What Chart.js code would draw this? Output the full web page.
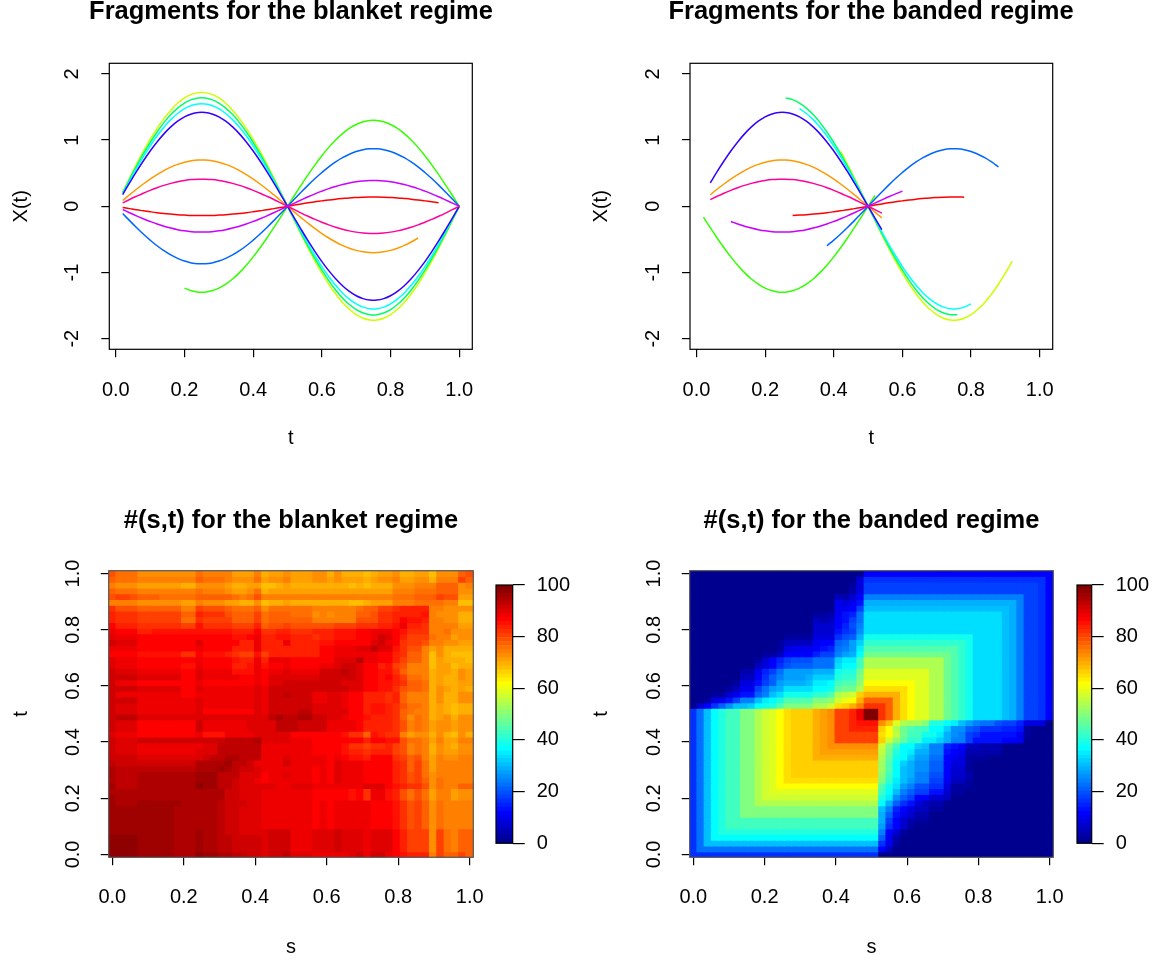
<!DOCTYPE html>
<html>
<head>
<meta charset="utf-8">
<title>Fragments</title>
<script src="https://cdn.jsdelivr.net/npm/chart.js@4/dist/chart.umd.min.js"></script>
<style>
    html, body { margin: 0; padding: 0; background: #fff; }
    #page { position: relative; width: 1159px; height: 964px; overflow: hidden; }
    canvas { position: absolute; }
</style>
</head>
<body>
<div id="page">
    <canvas id="fragBlanket" style="left:0;top:0" width="582" height="482"></canvas>
    <canvas id="fragBanded" style="left:580px;top:0" width="582" height="482"></canvas>
    <canvas id="heatBlanket" style="left:0;top:482px" width="510" height="482"></canvas>
    <canvas id="heatBanded" style="left:580px;top:482px" width="510" height="482"></canvas>
    <canvas id="barBlanket" style="left:490px;top:555px" width="90" height="320"></canvas>
    <canvas id="barBanded" style="left:1071px;top:555px" width="88" height="320"></canvas>
</div>
<script>
const tGrid = [0.02,0.04,0.06,0.08,0.10,0.12,0.14,0.16,0.18,0.20,0.22,0.24,0.26,0.28,0.30,0.32,0.34,0.36,0.38,0.40,0.42,0.44,0.46,0.48,0.50,0.52,0.54,0.56,0.58,0.60,0.62,0.64,0.66,0.68,0.70,0.72,0.74,0.76,0.78,0.80,0.82,0.84,0.86,0.88,0.90,0.92,0.94,0.96,0.98,1.00];

const curveRed = [-.018,-.035,-.052,-.067,-.082,-.096,-.108,-.118,-.127,-.133,-.138,-.140,-.140,-.138,-.133,-.127,-.118,-.108,-.096,-.082,-.067,-.052,-.035,-.018,0,.018,.035,.052,.067,.082,.096,.108,.118,.127,.133,.138,.140,.140,.138,.133,.127,.118,.108,.096,.082,.067,.052,.035,.018,0];
const curveOrange = [.088,.174,.258,.337,.411,.479,.539,.591,.633,.666,.688,.699,.699,.688,.666,.633,.591,.539,.479,.411,.337,.258,.174,.088,0,-.088,-.174,-.258,-.337,-.411,-.479,-.539,-.591,-.633,-.666,-.688,-.699,-.699,-.688,-.666,-.633,-.591,-.539,-.479,-.411,-.337,-.258,-.174,-.088,0];
const curveLime = [.216,.428,.633,.829,1.011,1.177,1.325,1.452,1.556,1.636,1.690,1.717,1.717,1.690,1.636,1.556,1.452,1.325,1.177,1.011,.829,.633,.428,.216,0,-.216,-.428,-.633,-.829,-1.011,-1.177,-1.325,-1.452,-1.556,-1.636,-1.690,-1.717,-1.717,-1.690,-1.636,-1.556,-1.452,-1.325,-1.177,-1.011,-.829,-.633,-.428,-.216,0];
const curveGreen = [-.163,-.323,-.479,-.626,-.764,-.890,-1.002,-1.098,-1.176,-1.236,-1.277,-1.297,-1.297,-1.277,-1.236,-1.176,-1.098,-1.002,-.890,-.764,-.626,-.479,-.323,-.163,0,.163,.323,.479,.626,.764,.890,1.002,1.098,1.176,1.236,1.277,1.297,1.297,1.277,1.236,1.176,1.098,1.002,.890,.764,.626,.479,.323,.163,0];
const curveSpring = [.205,.408,.604,.790,.964,1.123,1.264,1.385,1.484,1.560,1.611,1.637,1.637,1.611,1.560,1.484,1.385,1.264,1.123,.964,.790,.604,.408,.205,0,-.205,-.408,-.604,-.790,-.964,-1.123,-1.264,-1.385,-1.484,-1.560,-1.611,-1.637,-1.637,-1.611,-1.560,-1.484,-1.385,-1.264,-1.123,-.964,-.790,-.604,-.408,-.205,0];
const curveCyan = [.194,.385,.571,.747,.911,1.061,1.194,1.309,1.402,1.474,1.523,1.547,1.547,1.523,1.474,1.402,1.309,1.194,1.061,.911,.747,.571,.385,.194,0,-.194,-.385,-.571,-.747,-.911,-1.061,-1.194,-1.309,-1.402,-1.474,-1.523,-1.547,-1.547,-1.523,-1.474,-1.402,-1.309,-1.194,-1.061,-.911,-.747,-.571,-.385,-.194,0];
const curveAzure = [-.109,-.216,-.320,-.419,-.511,-.596,-.670,-.735,-.787,-.827,-.855,-.868,-.868,-.855,-.827,-.787,-.735,-.670,-.596,-.511,-.419,-.320,-.216,-.109,0,.109,.216,.320,.419,.511,.596,.670,.735,.787,.827,.855,.868,.868,.855,.827,.787,.735,.670,.596,.511,.419,.320,.216,.109,0];
const curveIndigo = [.178,.353,.523,.684,.835,.972,1.094,1.199,1.285,1.351,1.395,1.417,1.417,1.395,1.351,1.285,1.199,1.094,.972,.835,.684,.523,.353,.178,0,-.178,-.353,-.523,-.684,-.835,-.972,-1.094,-1.199,-1.285,-1.351,-1.395,-1.417,-1.417,-1.395,-1.351,-1.285,-1.199,-1.094,-.972,-.835,-.684,-.523,-.353,-.178,0];
const curveViolet = [-.049,-.097,-.144,-.188,-.229,-.267,-.300,-.329,-.353,-.371,-.383,-.389,-.389,-.383,-.371,-.353,-.329,-.300,-.267,-.229,-.188,-.144,-.097,-.049,0,.049,.097,.144,.188,.229,.267,.300,.329,.353,.371,.383,.389,.389,.383,.371,.353,.329,.300,.267,.229,.188,.144,.097,.049,0];
const curvePink = [.051,.102,.151,.198,.241,.281,.316,.346,.371,.390,.403,.409,.409,.403,.390,.371,.346,.316,.281,.241,.198,.151,.102,.051,0,-.051,-.102,-.151,-.198,-.241,-.281,-.316,-.346,-.371,-.390,-.403,-.409,-.409,-.403,-.390,-.371,-.346,-.316,-.281,-.241,-.198,-.151,-.102,-.051,0];

const curves = [curveRed, curveOrange, curveLime, curveGreen, curveSpring, curveCyan, curveAzure, curveIndigo, curveViolet, curvePink];
const curveColors = ['#FF0000','#FF9900','#CCFF00','#33FF00','#00FF66','#00FFFF','#0066FF','#3300FF','#CC00FF','#FF0099'];

// observed stretch of each curve, same order as curves
const blanketFrom = [0.02,0.02,0.02,0.20,0.02,0.02,0.02,0.02,0.02,0.02];
const blanketTo   = [0.94,0.88,1.00,1.00,1.00,1.00,1.00,1.00,1.00,1.00];
const bandedFrom  = [0.28,0.04,0.42,0.02,0.26,0.30,0.38,0.04,0.10,0.04];
const bandedTo    = [0.78,0.54,0.92,0.52,0.76,0.80,0.88,0.54,0.60,0.54];

const xTicks = [0,0.2,0.4,0.6,0.8,1];
const yTicks = [-2,-1,0,1,2];
const barTicks = [0,20,40,60,80,100];

const grid = [0.0000,0.0204,0.0408,0.0612,0.0816,0.1020,0.1224,0.1429,0.1633,0.1837,0.2041,0.2245,0.2449,0.2653,0.2857,0.3061,0.3265,0.3469,0.3673,0.3878,0.4082,0.4286,0.4490,0.4694,0.4898,0.5102,0.5306,0.5510,0.5714,0.5918,0.6122,0.6327,0.6531,0.6735,0.6939,0.7143,0.7347,0.7551,0.7755,0.7959,0.8163,0.8367,0.8571,0.8776,0.8980,0.9184,0.9388,0.9592,0.9796,1.0000];

const palette = ['#00008F','#00009F','#0000AF','#0000BF','#0000CF','#0000DF','#0000EF','#0000FF','#0010FF','#0020FF','#0030FF','#0040FF','#0050FF','#0060FF','#0070FF','#0080FF','#008FFF','#009FFF','#00AFFF','#00BFFF','#00CFFF','#00DFFF','#00EFFF','#00FFFF','#10FFEF','#20FFDF','#30FFCF','#40FFBF','#50FFAF','#60FF9F','#70FF8F','#80FF80','#8FFF70','#9FFF60','#AFFF50','#BFFF40','#CFFF30','#DFFF20','#EFFF10','#FFFF00','#FFEF00','#FFDF00','#FFCF00','#FFBF00','#FFAF00','#FF9F00','#FF8F00','#FF8000','#FF7000','#FF6000','#FF5000','#FF4000','#FF3000','#FF2000','#FF1000','#FF0000','#EF0000','#DF0000','#CF0000','#BF0000','#AF0000','#9F0000','#8F0000','#800000'];

// rows run from t = 1 at the top down to t = 0, columns from s = 0 to s = 1
const blanketCounts = [
[79,76,76,76,73,73,73,73,73,73,73,73,76,74,74,74,74,71,71,71,74,70,71,71,73,71,71,71,73,73,70,73,70,70,70,68,70,71,71,73,70,70,71,71,68,73,73,73,77,79],
[77,76,76,76,74,74,74,74,74,74,74,74,77,76,76,76,74,73,73,73,76,71,73,73,74,71,71,71,73,73,71,73,71,71,71,70,71,73,73,74,71,71,73,73,70,74,74,74,81,77],
[74,73,73,73,71,71,71,71,71,71,70,70,73,73,73,73,71,70,70,71,71,68,68,70,71,70,70,70,70,70,70,70,70,68,70,68,70,70,70,73,73,73,74,74,74,77,77,77,73,74],
[77,76,76,76,74,74,74,74,74,74,74,74,76,74,74,74,73,71,71,73,76,70,71,71,71,71,71,71,71,71,71,71,71,71,71,71,71,71,71,74,74,74,76,76,76,77,77,77,73,73],
[79,81,81,79,77,77,77,76,76,76,76,76,77,77,77,77,77,76,74,76,79,74,74,74,74,74,74,74,74,74,74,74,74,74,74,74,74,74,74,76,76,76,77,77,77,81,79,79,71,71],
[74,74,74,74,73,73,73,73,73,73,71,71,74,73,73,73,71,71,70,70,73,68,70,70,71,70,70,70,70,70,70,70,70,68,68,70,71,71,71,74,74,74,76,76,76,76,74,74,68,68],
[82,79,79,79,77,77,77,77,77,77,74,74,81,79,79,79,77,76,76,76,77,73,76,76,76,76,76,76,74,74,74,74,74,74,76,77,77,81,81,82,84,84,84,84,74,74,73,73,73,73],
[84,82,82,82,81,81,81,81,81,81,77,77,84,82,82,82,79,77,77,77,81,76,77,77,77,76,76,76,73,74,73,74,74,74,77,77,79,82,82,84,84,84,84,85,74,73,73,73,70,70],
[84,82,82,82,81,81,81,81,81,81,76,76,82,81,81,81,81,77,77,77,81,76,77,77,77,77,77,77,74,74,74,74,74,74,79,79,79,82,82,84,87,85,85,84,74,74,73,73,70,70],
[87,84,84,84,82,82,82,82,82,82,81,81,85,82,82,82,82,81,81,81,84,77,79,79,81,79,79,79,79,79,79,81,81,81,82,82,82,84,84,85,88,84,84,82,74,74,74,74,71,71],
[88,87,87,87,84,84,85,85,85,85,85,85,85,85,85,85,85,84,84,84,87,82,82,84,84,82,82,82,84,84,84,85,85,85,87,87,88,88,88,87,85,82,82,82,74,74,76,73,73,73],
[90,88,88,88,87,87,87,87,87,87,87,87,87,87,87,87,87,85,85,87,88,84,84,85,85,84,84,84,82,84,84,85,85,85,87,87,88,92,90,87,84,81,81,81,76,74,74,71,73,73],
[92,90,90,90,87,87,87,87,87,87,87,87,90,87,87,87,87,87,84,84,88,84,84,84,88,84,84,84,84,85,85,87,87,87,87,87,90,92,88,87,82,81,81,79,74,74,73,73,71,71],
[88,88,88,88,87,87,87,87,87,87,87,87,88,87,87,87,87,84,84,84,88,84,84,84,84,84,84,84,84,87,87,88,88,88,90,90,93,90,90,85,82,79,79,74,71,73,70,70,70,70],
[87,87,87,87,85,85,85,85,85,85,82,82,87,85,85,85,84,82,81,81,85,81,84,84,84,84,84,84,84,87,87,88,88,88,88,88,88,87,87,84,82,77,77,74,68,73,70,68,68,68],
[90,88,88,88,87,87,87,87,87,87,87,87,88,87,87,87,87,85,84,84,88,84,88,88,88,87,87,87,87,87,87,90,90,90,93,88,88,87,87,84,81,77,77,74,68,71,70,70,70,68],
[90,88,88,88,87,87,87,87,87,87,85,85,88,87,87,87,87,84,84,85,88,85,87,87,88,87,87,87,87,88,88,90,92,92,90,87,87,84,85,81,79,74,74,74,68,71,71,68,70,70],
[92,90,90,90,88,88,88,88,88,88,87,87,90,88,88,88,88,85,85,85,88,87,88,88,90,88,88,88,88,92,92,92,93,92,90,87,87,85,85,82,77,74,74,74,70,71,71,70,73,71],
[92,91,91,91,90,90,90,90,90,90,87,87,90,88,88,88,88,88,87,87,88,87,90,90,90,90,90,90,90,92,92,92,92,91,90,87,87,85,87,84,81,76,76,74,70,71,70,70,73,71],
[92,88,88,88,87,87,87,87,87,87,87,87,88,87,87,87,87,87,87,87,88,87,90,90,92,92,92,92,92,92,92,92,90,90,90,87,87,85,85,84,82,77,77,76,70,71,70,70,71,71],
[92,92,92,92,90,90,90,90,90,90,87,87,90,89,89,89,89,89,88,88,90,89,92,92,92,92,92,92,92,92,92,92,91,90,90,87,87,85,85,82,79,77,77,76,70,73,71,70,71,70],
[92,89,89,89,88,88,88,88,88,88,87,87,89,89,89,89,89,89,88,88,90,88,92,92,93,92,92,92,89,89,90,90,88,87,87,84,84,84,82,84,77,74,74,74,70,73,70,70,73,73],
[92,92,92,92,88,88,88,88,88,88,88,88,90,88,88,88,88,88,88,88,90,88,92,92,92,92,92,92,89,89,90,90,88,87,87,84,84,84,82,84,77,74,74,74,70,73,70,70,73,73],
[92,90,90,90,88,88,88,88,88,88,88,88,90,88,88,88,88,88,88,88,90,88,92,92,92,92,92,92,90,90,90,90,88,87,87,84,85,85,84,82,79,76,76,74,70,71,70,68,70,70],
[92,90,90,90,88,88,88,88,88,88,88,88,90,87,87,87,87,87,87,87,90,88,92,92,92,92,93,93,90,90,90,90,90,87,87,84,85,85,84,82,77,76,74,74,70,71,70,68,70,70],
[92,93,93,93,90,90,90,90,90,90,90,90,90,90,90,90,90,90,90,90,90,90,93,95,93,93,95,95,92,92,90,90,89,87,87,85,84,84,84,82,77,73,76,74,70,71,73,70,73,73],
[92,90,90,90,87,87,87,87,87,87,87,87,92,88,88,88,88,88,88,90,90,90,90,93,93,93,92,92,91,91,89,89,89,88,87,84,84,84,84,82,79,74,76,74,71,73,73,71,73,73],
[92,90,90,90,87,87,87,87,87,87,87,87,92,88,88,88,88,88,88,90,90,90,90,93,93,93,92,92,91,91,89,89,89,88,87,84,84,84,84,82,79,74,76,74,71,73,73,71,73,73],
[90,88,88,88,87,87,87,87,87,87,87,87,88,85,85,85,88,88,88,88,90,90,90,90,90,87,87,87,87,87,87,87,85,82,82,77,85,84,82,82,74,71,73,73,70,73,70,68,73,70],
[92,90,90,90,92,92,92,92,92,92,92,92,92,92,92,92,93,93,93,93,95,90,90,90,90,88,88,88,87,87,87,87,87,87,87,84,87,87,85,85,79,76,76,74,71,74,71,71,74,74],
[92,90,90,90,89,89,89,89,89,89,89,89,89,90,90,93,93,93,93,93,93,88,88,88,88,88,88,88,87,87,87,87,85,82,82,81,82,82,84,81,79,74,76,74,70,73,71,70,73,73],
[92,90,90,90,88,88,88,88,88,88,88,88,90,90,90,93,93,93,93,93,93,88,88,88,88,88,88,88,87,87,87,87,85,84,84,82,84,84,84,81,79,74,76,74,70,73,71,71,73,73],
[92,92,92,92,90,90,90,90,90,90,90,90,90,92,93,93,95,95,93,93,93,89,89,89,90,88,88,88,88,88,87,88,87,85,85,84,87,87,87,82,81,77,79,74,71,74,73,73,74,74],
[93,92,92,92,92,92,92,92,92,92,92,92,95,95,95,95,96,93,93,92,89,89,89,89,92,88,88,88,88,88,87,90,88,88,88,87,87,87,87,84,82,77,81,76,71,74,74,74,74,74],
[95,93,93,93,93,93,93,93,93,93,93,93,95,95,95,96,95,93,92,92,90,88,88,88,88,88,88,88,87,88,87,90,88,88,88,87,87,87,87,84,82,77,81,76,71,74,74,74,74,74],
[95,93,93,93,95,95,95,95,95,95,95,95,96,96,96,93,93,93,90,90,90,87,88,88,90,88,88,88,87,88,87,90,88,88,88,87,87,87,87,84,82,79,81,76,73,74,74,74,74,74],
[95,93,93,93,95,95,95,95,95,95,95,95,96,96,96,93,93,92,90,90,89,87,88,88,89,88,88,88,87,88,87,90,88,88,88,87,87,87,87,84,82,79,81,77,73,76,74,74,74,74],
[96,93,93,93,95,95,95,95,95,95,95,95,98,96,96,93,93,92,90,90,90,90,90,88,88,90,90,90,88,88,88,88,88,88,88,90,90,90,87,85,84,82,82,79,73,76,74,74,77,77],
[95,95,95,95,95,95,95,95,95,95,95,95,95,95,95,95,92,92,90,90,90,88,88,88,88,88,88,88,87,87,87,87,87,85,87,82,88,88,85,84,79,76,79,76,71,74,74,71,73,73],
[96,95,95,95,95,95,95,95,95,95,95,95,95,95,95,95,92,92,90,90,90,88,88,88,88,88,88,88,87,87,87,87,87,85,87,82,88,88,85,84,79,76,79,76,71,74,74,71,73,73],
[96,95,95,95,96,96,96,96,96,96,95,95,95,95,95,93,92,92,91,90,90,88,88,88,88,88,88,88,87,88,87,88,88,88,88,88,87,87,87,85,82,79,81,77,73,76,74,74,74,74],
[96,96,96,96,96,96,96,96,96,95,95,95,95,95,95,93,92,92,90,90,90,88,88,88,88,88,88,88,87,88,87,88,88,88,88,88,87,87,87,85,82,79,81,77,73,76,74,74,74,74],
[96,96,96,96,96,96,96,96,96,95,95,95,95,95,95,93,92,92,90,90,90,88,88,88,88,88,88,88,87,88,87,88,88,88,88,88,87,87,87,85,82,79,81,77,73,76,74,74,74,74],
[96,96,96,96,96,96,96,96,96,95,95,95,95,95,95,93,92,92,90,90,90,88,88,88,88,88,88,88,87,88,87,88,88,88,88,88,87,87,87,85,82,79,81,77,73,76,74,74,74,74],
[96,96,96,96,96,96,96,96,96,95,95,95,95,95,95,93,92,92,90,90,90,88,88,88,88,88,88,88,87,88,87,88,88,88,88,88,87,87,87,85,82,79,81,77,73,76,74,74,74,74],
[96,96,96,96,96,96,96,96,96,95,95,95,96,95,95,93,92,92,90,90,90,90,92,92,92,89,89,89,90,90,90,92,90,90,90,88,90,90,90,87,84,81,81,81,73,81,76,74,77,77],
[98,98,98,98,96,96,96,96,96,95,95,95,96,95,95,93,93,92,92,92,92,90,92,92,92,89,89,89,90,90,90,92,90,90,90,88,90,90,90,87,84,81,81,81,73,81,76,74,77,77],
[98,98,98,98,96,96,96,96,96,95,95,95,96,95,95,93,93,92,92,92,92,90,92,92,92,89,89,89,90,90,90,92,90,90,90,88,90,90,90,87,84,81,81,81,73,81,76,74,77,77],
[98,98,98,98,96,96,96,96,96,95,95,95,96,95,95,93,93,92,92,92,92,90,92,92,92,89,89,89,90,90,90,92,90,90,90,88,90,90,90,87,84,81,81,81,73,81,76,74,77,77],
[98,98,98,98,96,96,96,96,96,95,95,95,98,96,96,95,95,93,93,92,92,90,92,92,93,90,90,90,88,88,88,88,88,90,92,88,92,92,88,87,85,84,84,84,74,81,77,77,81,77],
];

const bandedCounts = [
[1,1,1,1,1,1,1,1,1,1,1,1,1,1,1,1,1,1,1,1,1,1,1,1,12,12,12,12,12,12,12,12,12,12,12,12,12,12,12,12,12,12,12,12,12,12,12,12,12,12],
[1,1,1,1,1,1,1,1,1,1,1,1,1,1,1,1,1,1,1,1,1,1,1,9,16,16,16,16,16,16,16,16,16,16,16,16,16,16,16,16,16,16,16,16,16,16,16,16,16,12],
[1,1,1,1,1,1,1,1,1,1,1,1,1,1,1,1,1,1,1,1,1,1,2,9,18,18,18,18,18,18,18,18,18,18,18,18,18,18,18,18,18,18,18,18,18,18,18,18,16,12],
[1,1,1,1,1,1,1,1,1,1,1,1,1,1,1,1,1,1,1,1,1,1,4,9,18,18,18,18,18,18,18,18,18,18,18,18,18,18,18,18,18,18,18,18,18,18,18,18,16,12],
[1,1,1,1,1,1,1,1,1,1,1,1,1,1,1,1,1,1,1,1,5,4,7,12,24,24,24,24,24,24,24,24,24,24,24,24,24,24,24,24,24,24,24,24,24,24,18,18,16,12],
[1,1,1,1,1,1,1,1,1,1,1,1,1,1,1,1,1,1,1,1,10,9,10,13,29,29,29,29,29,29,29,29,29,29,29,29,29,29,29,29,29,29,29,29,29,24,18,18,16,12],
[1,1,1,1,1,1,1,1,1,1,1,1,1,1,1,1,1,1,1,1,10,10,12,18,30,30,30,30,30,30,30,30,30,30,30,30,30,30,30,30,30,30,30,30,29,24,18,18,16,12],
[1,1,1,1,1,1,1,1,1,1,1,1,1,1,1,1,1,2,2,4,10,13,15,23,34,34,34,34,34,34,34,34,34,34,34,34,34,34,34,34,34,34,34,30,29,24,18,18,16,12],
[1,1,1,1,1,1,1,1,1,1,1,1,1,1,1,1,1,5,4,5,12,13,18,23,34,34,34,34,34,34,34,34,34,34,34,34,34,34,34,34,34,34,34,30,29,24,18,18,16,12],
[1,1,1,1,1,1,1,1,1,1,1,1,1,1,1,1,1,7,7,7,12,15,20,24,34,34,34,34,34,34,34,34,34,34,34,34,34,34,34,34,34,34,34,30,29,24,18,18,16,12],
[1,1,1,1,1,1,1,1,1,1,1,1,1,1,1,1,1,7,7,7,13,16,18,26,34,34,34,34,34,34,34,34,34,34,34,34,34,34,34,34,34,34,34,30,29,24,18,18,16,12],
[1,1,1,1,1,1,1,1,1,1,1,1,1,2,2,2,2,9,9,9,16,20,21,29,38,38,38,38,38,38,38,38,38,38,38,38,38,38,38,34,34,34,34,30,29,24,18,18,16,12],
[1,1,1,1,1,1,1,1,1,1,1,1,2,5,5,5,5,10,12,12,21,23,27,32,41,41,41,41,41,41,41,41,41,41,41,41,41,41,38,34,34,34,34,30,29,24,18,18,16,12],
[1,1,1,1,1,1,1,1,1,1,1,1,2,9,10,10,10,12,13,15,23,24,27,35,45,45,45,45,45,45,45,45,45,45,45,45,45,41,38,34,34,34,34,30,29,24,18,18,16,12],
[1,1,1,1,1,1,1,1,1,1,2,2,5,12,12,12,12,15,18,18,24,27,29,37,48,48,48,48,48,48,48,48,48,48,48,48,45,41,38,34,34,34,34,30,29,24,18,18,16,12],
[1,1,1,1,1,1,1,1,1,2,7,12,15,18,20,20,20,23,23,23,32,35,35,43,54,54,54,54,54,54,54,54,54,54,54,48,45,41,38,34,34,34,34,30,29,24,18,18,16,12],
[1,1,1,1,1,1,1,1,1,5,9,12,16,20,21,21,21,23,23,23,34,37,37,43,54,54,54,54,54,54,54,54,54,54,54,48,45,41,38,34,34,34,34,30,29,24,18,18,16,12],
[1,1,1,1,1,1,1,4,4,10,15,18,23,27,27,27,27,29,29,29,38,40,40,48,59,59,59,59,59,59,59,59,59,54,54,48,45,41,38,34,34,34,34,30,29,24,18,18,16,12],
[1,1,1,1,1,1,1,5,5,12,16,21,24,27,27,27,29,32,32,32,40,41,41,49,59,59,59,59,59,59,59,59,59,54,54,48,45,41,38,34,34,34,34,30,29,24,18,18,16,12],
[1,1,1,1,1,1,2,9,9,13,18,21,27,29,29,29,30,35,35,37,43,45,45,51,62,62,62,62,62,62,62,59,59,54,54,48,45,41,38,34,34,34,34,30,29,24,18,18,16,12],
[1,1,1,1,1,2,5,10,10,18,23,27,29,34,34,34,34,37,37,38,46,48,48,54,65,65,65,65,65,65,62,59,59,54,54,48,45,41,38,34,34,34,34,30,29,24,18,18,16,12],
[1,1,1,2,2,7,10,13,13,21,24,30,34,38,38,38,38,41,41,45,54,55,57,66,70,70,70,70,70,65,62,59,59,54,54,48,45,41,38,34,34,34,34,30,29,24,18,18,16,12],
[1,1,2,9,10,13,18,24,24,30,35,37,40,45,45,45,45,49,49,51,57,60,62,70,77,77,77,77,70,65,62,59,59,54,54,48,45,41,38,34,34,34,34,30,29,24,18,18,16,12],
[1,7,12,16,21,26,30,30,32,37,38,40,45,49,49,49,49,54,54,57,65,66,70,74,82,82,82,77,70,65,62,59,59,54,54,48,45,41,38,34,34,34,34,30,29,24,18,18,16,12],
[16,23,30,37,40,43,43,49,49,54,57,59,62,65,66,66,66,70,71,73,81,81,84,88,99,99,82,77,70,65,62,59,59,54,54,48,45,41,38,34,34,34,34,30,29,24,18,18,16,12],
[16,23,30,37,40,43,43,49,49,54,57,59,62,65,66,66,66,70,71,73,81,81,84,88,99,99,82,77,70,65,62,59,59,54,54,48,45,41,38,34,34,34,34,30,29,24,18,18,16,12],
[16,23,30,37,40,43,43,49,49,54,57,59,62,65,66,66,66,70,71,73,81,81,84,85,85,85,73,68,59,54,52,52,49,40,40,37,35,30,27,24,23,23,20,18,18,15,9,9,9,1],
[16,23,30,37,40,43,43,49,49,54,57,59,62,65,66,66,66,70,71,73,81,81,84,84,84,84,66,62,54,48,45,43,43,37,37,32,26,26,21,20,16,16,16,15,15,13,2,1,1,1],
[16,23,30,37,40,43,43,49,49,54,57,59,62,65,66,66,66,70,71,73,81,81,81,81,81,81,65,62,55,48,43,43,38,38,35,29,26,24,18,16,13,13,13,13,13,10,2,1,1,1],
[16,23,30,37,40,43,43,49,49,54,57,59,62,65,66,66,66,70,71,73,81,81,81,81,81,81,66,57,51,46,41,41,35,35,32,29,24,24,18,13,13,13,13,12,12,10,1,1,1,1],
[16,23,30,37,40,43,43,49,49,54,57,59,62,65,66,66,66,70,71,73,73,73,73,73,73,73,57,49,43,37,37,32,30,24,24,15,13,12,5,5,4,4,4,1,1,1,1,1,1,1],
[16,23,30,37,40,43,43,49,49,54,57,59,62,65,66,66,66,70,71,71,71,71,71,71,71,71,55,48,40,37,35,29,29,24,24,13,12,10,4,4,4,4,4,1,1,1,1,1,1,1],
[16,23,30,37,40,43,43,49,49,54,57,59,62,65,66,66,66,70,70,70,70,70,70,70,70,70,54,46,38,37,32,27,27,23,23,12,10,9,2,2,2,1,1,1,1,1,1,1,1,1],
[16,23,30,37,40,43,43,49,49,54,57,59,62,65,66,66,66,66,66,66,66,66,66,66,66,66,52,45,37,32,29,26,26,21,21,12,9,9,2,1,1,1,1,1,1,1,1,1,1,1],
[16,23,30,37,40,43,43,49,49,54,57,59,62,65,66,66,66,66,66,66,66,66,66,66,66,66,52,45,37,30,29,26,26,21,21,12,7,7,2,1,1,1,1,1,1,1,1,1,1,1],
[16,23,30,37,40,43,43,49,49,54,57,59,62,65,66,66,66,66,66,66,66,66,66,66,66,66,51,43,37,30,29,24,24,20,20,12,7,7,4,1,1,1,1,1,1,1,1,1,1,1],
[16,23,30,37,40,43,43,49,49,54,57,59,62,65,65,65,65,65,65,65,65,65,65,65,65,65,49,41,35,30,27,24,24,18,18,10,5,5,2,1,1,1,1,1,1,1,1,1,1,1],
[16,23,30,37,40,43,43,49,49,54,57,59,62,62,62,62,62,62,62,62,62,62,62,62,62,62,45,38,34,27,24,20,20,16,16,9,2,2,2,1,1,1,1,1,1,1,1,1,1,1],
[16,23,30,37,40,43,43,49,49,54,57,59,59,59,59,59,59,59,59,59,59,59,59,59,59,59,43,37,30,24,21,18,18,13,13,7,2,2,1,1,1,1,1,1,1,1,1,1,1,1],
[16,23,30,37,40,43,43,49,49,54,57,57,57,57,57,57,57,57,57,57,57,57,57,57,57,57,40,35,26,21,18,12,12,7,7,5,1,1,1,1,1,1,1,1,1,1,1,1,1,1],
[16,23,30,37,40,43,43,49,49,54,54,54,54,54,54,54,54,54,54,54,54,54,54,54,54,54,37,29,21,16,13,9,5,4,4,1,1,1,1,1,1,1,1,1,1,1,1,1,1,1],
[16,23,30,37,40,43,43,49,49,49,49,49,49,49,49,49,49,49,49,49,49,49,49,49,49,49,30,24,15,12,9,5,5,2,2,1,1,1,1,1,1,1,1,1,1,1,1,1,1,1],
[16,23,30,37,40,43,43,49,49,49,49,49,49,49,49,49,49,49,49,49,49,49,49,49,49,49,29,21,13,10,7,4,4,1,1,1,1,1,1,1,1,1,1,1,1,1,1,1,1,1],
[16,23,30,37,40,43,43,43,43,43,43,43,43,43,43,43,43,43,43,43,43,43,43,43,43,43,29,18,12,7,4,2,2,1,1,1,1,1,1,1,1,1,1,1,1,1,1,1,1,1],
[16,23,30,37,40,43,43,43,43,43,43,43,43,43,43,43,43,43,43,43,43,43,43,43,43,43,27,16,12,7,2,1,1,1,1,1,1,1,1,1,1,1,1,1,1,1,1,1,1,1],
[16,23,30,37,40,40,40,40,40,40,40,40,40,40,40,40,40,40,40,40,40,40,40,40,40,40,24,12,7,2,1,1,1,1,1,1,1,1,1,1,1,1,1,1,1,1,1,1,1,1],
[16,23,30,37,37,37,37,37,37,37,37,37,37,37,37,37,37,37,37,37,37,37,37,37,37,37,21,10,4,1,1,1,1,1,1,1,1,1,1,1,1,1,1,1,1,1,1,1,1,1],
[16,23,30,30,30,30,30,30,30,30,30,30,30,30,30,30,30,30,30,30,30,30,30,30,30,30,16,10,2,1,1,1,1,1,1,1,1,1,1,1,1,1,1,1,1,1,1,1,1,1],
[16,23,23,23,23,23,23,23,23,23,23,23,23,23,23,23,23,23,23,23,23,23,23,23,23,23,12,5,1,1,1,1,1,1,1,1,1,1,1,1,1,1,1,1,1,1,1,1,1,1],
[16,16,16,16,16,16,16,16,16,16,16,16,16,16,16,16,16,16,16,16,16,16,16,16,16,16,1,1,1,1,1,1,1,1,1,1,1,1,1,1,1,1,1,1,1,1,1,1,1,1],
];

Chart.defaults.font.family = '"Liberation Sans", Arial, sans-serif';
Chart.defaults.color = '#000';
Chart.defaults.devicePixelRatio = 1;

const tickFont = { size: 20 };
const titleFont = { size: 25.5, weight: 'bold', lineHeight: 1 };
const axisFont = { size: 20, lineHeight: 1 };

const boxPlugin = {
    id: 'box',
    afterDraw(chart) {
        const a = chart.chartArea, ctx = chart.ctx;
        ctx.save();
        ctx.strokeStyle = chart.options.plugins.box.color;
        ctx.lineWidth = 1.2;
        ctx.strokeRect(a.left, a.top, a.right - a.left, a.bottom - a.top);
        ctx.restore();
    },
};

const pickColor = v => palette[Math.min(63, Math.floor(v * 64 / 100))];

function axis(opts) {
    return {
        type: 'linear',
        offset: false,
        min: opts.min,
        max: opts.max,
        position: opts.position,
        border: { display: false },
        grid: { drawOnChartArea: false, offset: false, color: '#000', tickLength: opts.tick, lineWidth: 1.2 },
        afterBuildTicks: s => { s.ticks = opts.ticks.map(v => ({ value: v })); },
        afterFit: s => { if (opts.size) s[opts.position === 'bottom' ? 'height' : 'width'] = opts.size; },
        title: opts.title ? { display: true, text: opts.title, font: axisFont, padding: opts.titlePad } : { display: false },
        ticks: Object.assign({ font: tickFont, autoSkip: false, padding: opts.pad, callback: opts.label }, opts.rotate ? { minRotation: 90, maxRotation: 90, crossAlign: 'center' } : {}),
    };
}

function panel(id, type, datasets, cfg) {
    const scales = {
        x: axis({ min: cfg.xMin, max: cfg.xMax, position: 'bottom', ticks: xTicks, tick: 8, pad: cfg.xPad, size: cfg.xSize, title: cfg.xTitle, titlePad: { bottom: cfg.xTitleBottom, top: 0 }, label: v => v.toFixed(1) }),
        y: axis({ min: cfg.yMin, max: cfg.yMax, position: 'left', ticks: cfg.yTicks, tick: 8, pad: cfg.yPad, size: cfg.ySize, title: cfg.yTitle, titlePad: { top: cfg.yTitleTop, bottom: 0 }, rotate: true, label: cfg.yLabel }),
    };
    // empty right axis keeps the wide title centred over the plot box
    if (cfg.spacer) {
        scales.spacer = {
            axis: 'y',
            position: 'right',
            border: { display: false },
            grid: { display: false },
            ticks: { display: false },
            afterFit: s => { s.width = cfg.spacer; },
        };
    }
    return new Chart(document.getElementById(id), {
        type,
        data: { datasets },
        plugins: [boxPlugin],
        options: {
            responsive: false,
            animation: false,
            events: [],
            layout: { padding: { right: cfg.right || 0 } },
            plugins: {
                legend: { display: false },
                tooltip: { enabled: false },
                box: { color: cfg.box },
                title: { display: true, fullSize: cfg.titleFull, text: cfg.title, font: titleFont, color: '#000', padding: { top: cfg.titleTop, bottom: cfg.titleBottom } },
            },
            scales,
        },
    });
}

function fragmentSets(from, to) {
    return curves.map((c, i) => ({
        data: tGrid.map((t, k) => ({ x: t, y: c[k] })).filter(p => p.x >= from[i] - 1e-6 && p.x <= to[i] + 1e-6),
        borderColor: curveColors[i],
        borderWidth: 1.5,
        pointRadius: 0,
        tension: 0.4,
        fill: false,
        order: curves.length - i,
    }));
}

function cellSets(rows) {
    const half = (grid[1] - grid[0]) / 2;
    return rows.map((row, j) => {
        const t = grid[grid.length - 1 - j];
        return {
            data: row.map((v, i) => ({ x: grid[i], y: [t - half, t + half] })),
            backgroundColor: row.map(pickColor),
            borderWidth: 0,
            inflateAmount: 0.6,
            grouped: false,
            barPercentage: 1,
            categoryPercentage: 1,
        };
    });
}

function colorBar(id, padLeft) {
    new Chart(document.getElementById(id), {
        type: 'bar',
        data: {
            labels: [''],
            datasets: palette.map((c, i) => ({
                data: [[i * 100 / palette.length, (i + 1) * 100 / palette.length]],
                backgroundColor: c,
                borderWidth: 0,
                grouped: false,
                barPercentage: 1,
                categoryPercentage: 1,
            })),
        },
        plugins: [boxPlugin],
        options: {
            responsive: false,
            animation: false,
            events: [],
            layout: { padding: { left: padLeft, top: 30, bottom: 31.7 } },
            plugins: { legend: { display: false }, tooltip: { enabled: false }, box: { color: '#000' }, title: { display: false } },
            scales: {
                x: { display: false },
                y: {
                    position: 'right',
                    min: 0,
                    max: 100,
                    border: { display: false },
                    grid: { drawOnChartArea: false, color: '#000', tickLength: 12, lineWidth: 1.2 },
                    afterBuildTicks: s => { s.ticks = barTicks.map(v => ({ value: v })); },
                    afterFit: s => { s.width = 88 - padLeft - 14.7; },
                    ticks: { font: tickFont, padding: 12, autoSkip: false },
                },
            },
        },
    });
}

const fragCfg = {
    xMin: -0.019, xMax: 1.038, yMin: -2.16, yMax: 2.16, yTicks, yLabel: v => String(v),
    xSize: 132.7, xPad: 21, xTitle: 't', xTitleBottom: 34,
    yTitle: 'X(t)', yTitleTop: 11, yPad: 20, titleFull: true,
    box: '#000', titleTop: -0.75, titleBottom: 38.55,
};
panel('fragBlanket', 'line', fragmentSets(blanketFrom, blanketTo), Object.assign({}, fragCfg, { title: 'Fragments for the blanket regime', ySize: 109.3, spacer: 109.7 }));
panel('fragBanded', 'line', fragmentSets(bandedFrom, bandedTo), Object.assign({}, fragCfg, { title: 'Fragments for the banded regime', ySize: 110, spacer: 109.3 }));

const heatCfg = {
    xMin: -0.0102, xMax: 1.0102, yMin: -0.0102, yMax: 1.0102, yTicks: xTicks, yLabel: v => v.toFixed(1),
    xSize: 106.7, xPad: 20, xTitle: 's', xTitleBottom: 7,
    yTitle: 't', yTitleTop: 11, yPad: 13, titleFull: false,
    box: '#555', titleTop: 25.75, titleBottom: 37.45,
};
panel('heatBlanket', 'bar', cellSets(blanketCounts), Object.assign({}, heatCfg, { title: '#(s,t) for the blanket regime', ySize: 108.7, right: 36.7 }));
panel('heatBanded', 'bar', cellSets(bandedCounts), Object.assign({}, heatCfg, { title: '#(s,t) for the banded regime', ySize: 109.7, right: 36.7 }));

colorBar('barBlanket', 6);
colorBar('barBanded', 6);
</script>
</body>
</html>
